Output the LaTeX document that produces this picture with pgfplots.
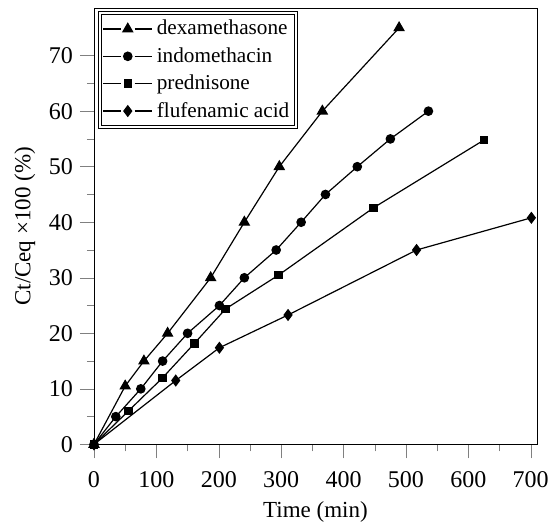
\documentclass[border=0pt]{standalone}
\usepackage{fontspec}
\setmainfont{Liberation Serif}
\usepackage{pgfplots}
\pgfplotsset{compat=1.18}

\begin{document}
\begin{tikzpicture}
\path (-47pt,-42.25pt) rectangle (232.5pt,222.2pt);
\begin{axis}[
    scale only axis,
    width=221.5pt,
    height=218pt,
    xmin=0, xmax=710,
    ymin=0, ymax=78.5,
    xtick={0,100,...,700},
    ytick={0,10,...,70},
    minor x tick num=1,
    minor y tick num=1,
    tick align=outside,
    tick pos=left,
    major tick length=7pt,
    minor tick length=3.5pt,
    /pgf/number format/assume math mode=true,
    tick label style={font=\fontsize{12}{13}\selectfont},
    xticklabel style={yshift=-3pt},
    label style={font=\fontsize{11.5}{12}\selectfont},
    xlabel={Time (min)},
    ylabel={Ct/Ceq ×100 (\%)},
    legend style={at={(0.012,0.99)},anchor=north west,
        draw=black, double, double distance=1.2pt,
        font=\fontsize{10.6}{12}\selectfont,
        row sep=0.8pt, inner sep=1.5pt},
    legend cell align=left,
    legend image code/.code={
        \draw (0cm,0cm) -- (0.31cm,0cm) (0.55cm,0cm) -- (0.86cm,0cm);
        \draw[only marks] plot coordinates {(0.43cm,0cm)};
    },
    every axis plot/.append style={black, line width=0.6pt, mark options={solid, fill=black}},
]
\addplot[mark=triangle*, mark size=2.8pt] coordinates {
(0,0) (50,10.5) (80,15) (118,20) (187,30) (241,40) (297,50) (366,60) (489,75)
};
\addplot[mark=*, mark size=2.1pt] coordinates {
(0,0) (35,5) (75,10) (110,15) (150,20) (201,25) (241,30) (292,35) (332,40) (371,45) (422,50) (475,55) (536,60)
};
\addplot[mark=square*, mark size=1.8pt] coordinates {
(0,0) (55,6) (110,12) (161,18.2) (211,24.4) (296,30.5) (448,42.6) (625,54.8)
};
\addplot[mark=diamond*, mark size=2.6pt] coordinates {
(0,0) (131,11.5) (201,17.4) (311,23.3) (517,35) (701,40.8)
};
\legend{dexamethasone, indomethacin, prednisone, flufenamic acid}
\end{axis}
\end{tikzpicture}
\end{document}
